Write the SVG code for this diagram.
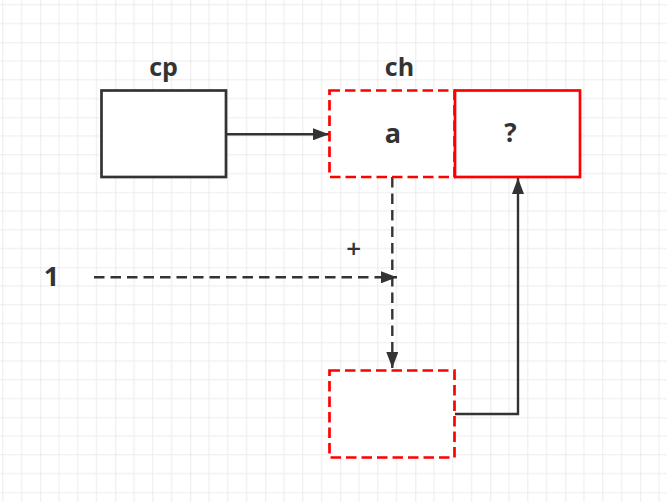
<svg xmlns="http://www.w3.org/2000/svg" width="667" height="502" viewBox="0 0 667 502">
  <defs>
    <pattern id="grid" patternUnits="userSpaceOnUse" x="40.3" y="42.3" width="75" height="75">
      <path d="M18.75 0V75M37.5 0V75M56.25 0V75M0 18.75H75M0 37.5H75M0 56.25H75" stroke="#ececec" stroke-width="1" fill="none"/>
      <path d="M0 0V75M0 0H75" stroke="#dedede" stroke-width="1.2" fill="none"/>
    </pattern>
    <marker id="arr" viewBox="0 0 16 12" refX="16" refY="6" markerWidth="16" markerHeight="12" markerUnits="userSpaceOnUse" orient="auto">
      <path d="M0 0L16 6L0 12Z" fill="#333"/>
    </marker>
    <style>
      .lbl{font-family:"Open Sans","Liberation Sans",sans-serif;font-weight:bold;fill:#333;text-anchor:middle}
      .box{fill:#fff;stroke-width:2.7}
      .blk{stroke:#333}
      .red{stroke:#ff0000}
      .dash{stroke-dasharray:10.5 5}
      .con{fill:none;stroke:#333;stroke-width:2.4}
      .cdash{stroke-dasharray:10.5 6}
    </style>
  </defs>
  <rect width="667" height="502" fill="#fff"/>
  <rect width="667" height="502" fill="url(#grid)"/>

  <g id="connectors">
    <path class="con" d="M226 134.3H329" marker-end="url(#arr)"/>
    <path class="con cdash" d="M392.3 177V368" marker-end="url(#arr)"/>
    <path class="con cdash" d="M94 277.3H397" marker-end="url(#arr)"/>
    <path class="con" d="M455 414H518V178" marker-end="url(#arr)"/>
  </g>

  <g id="node-cp">
    <rect class="box blk" x="101.5" y="90.5" width="124.5" height="86.5"/>
    <text class="lbl" x="163.5" y="75.5" font-size="25">cp</text>
  </g>
  <g id="node-a">
    <rect class="box red dash" x="329.5" y="90.5" width="125" height="86.5"/>
    <text class="lbl" x="393" y="142.8" font-size="27">a</text>
    <text class="lbl" x="399.5" y="75.8" font-size="25">ch</text>
  </g>
  <g id="node-q">
    <rect class="box red" x="455" y="90.5" width="125" height="86.5"/>
    <text class="lbl" x="510.5" y="142" font-size="26">?</text>
  </g>
  <g id="node-bottom">
    <rect class="box red dash" x="329.5" y="370.5" width="125" height="87"/>
  </g>
  <g id="label-1">
    <text class="lbl" x="51.5" y="286" font-size="27">1</text>
  </g>
  <g id="label-plus">
    <text class="lbl" x="353.8" y="257.5" font-size="26" style="font-weight:600">+</text>
  </g>
</svg>
